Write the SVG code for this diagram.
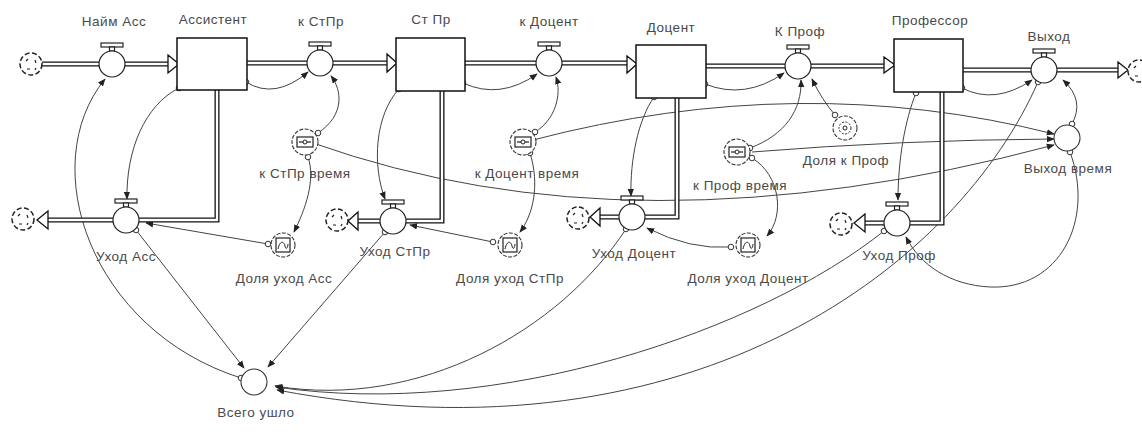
<svg xmlns="http://www.w3.org/2000/svg" width="1142" height="441" viewBox="0 0 1142 441">
<style>
text{font-family:"Liberation Sans",Arial,sans-serif;font-size:13.5px;letter-spacing:0.5px;fill:#4a4a4a;text-anchor:middle}
.po{fill:none;stroke:#111;stroke-width:5}
.pi{fill:none;stroke:#fff;stroke-width:2.4}
.pa{fill:#fff;stroke:#111;stroke-width:1.3}
.stock{fill:#fff;stroke:#111;stroke-width:1.5}
.vc{fill:#fff;stroke:#222;stroke-width:1.2}
.aux{fill:#fff;stroke:#333;stroke-width:1.1}
.cl{fill:#fff;stroke:#222;stroke-width:1.5;stroke-dasharray:5 2.5}
.ln{fill:none;stroke:#444;stroke-width:1;marker-end:url(#ah)}
.og{fill:#fff;stroke:#333;stroke-width:1}
</style>
<defs>
<marker id="ah" viewBox="0 0 10 10" refX="9" refY="5" markerWidth="8" markerHeight="8" orient="auto" markerUnits="userSpaceOnUse"><path d="M0,1 L10,5 L0,9 z" fill="#222"/></marker>
<g id="valve"><rect x="-11" y="-21" width="22" height="4" class="vc"/><rect x="-2.5" y="-17" width="5" height="4" class="vc"/><circle r="13" class="vc"/></g>
<g id="cloud"><circle r="11" class="cl"/><path d="M-5,-3 l2,-2 M4,-4 l1,3 M-4,5 l3,0 M5,4 l-1,2" stroke="#222" stroke-width="1.2" fill="none"/></g>
<g id="lkt"><circle r="13" class="aux" stroke-dasharray="4 1.5"/><rect x="-8" y="-5" width="16" height="10" fill="#fff" stroke="#222" stroke-width="1.2"/><path d="M-6,0 H6" stroke="#222" stroke-width="1.2"/><circle r="2" fill="#fff" stroke="#222"/></g>
<g id="lkg"><circle r="12" class="aux" stroke-dasharray="4 1.5"/><rect x="-7" y="-7" width="14" height="14" fill="#fff" stroke="#222" stroke-width="1.2"/><path d="M-5,4 C-3,-5 1,-4 2,1 S5,2 5,-1" fill="none" stroke="#222"/></g>
<g id="cst"><circle r="12" class="aux" stroke-dasharray="4 1.5"/><circle r="6" fill="none" stroke="#222" stroke-dasharray="2 1.5"/><circle r="2" fill="none" stroke="#222"/></g>
</defs>

<g id="connectors">
<path class="ln" d="M179,88 C145,105 126,150 127,199"/>
<path class="ln" d="M246,82 Q275,100 308,72"/>
<path class="ln" d="M318,133 C345,115 342,90 331,76"/>
<path class="ln" d="M308,157 C316,180 305,210 294,232"/>
<path class="ln" d="M268,244 L146,223"/>
<path class="ln" d="M136,230 L244,368"/>
<path class="ln" d="M241,378 C90,330 35,165 105,79"/>
<path class="ln" d="M313,143 Q634,257 1054,145"/>
<path class="ln" d="M535,132 C555,120 562,95 556,77"/>
<path class="ln" d="M530,153 C540,185 533,215 520,232"/>
<path class="ln" d="M493,242 L410,225"/>
<path class="ln" d="M399,89 C375,115 372,165 385,199"/>
<path class="ln" d="M463,83 Q500,100 537,74"/>
<path class="ln" d="M385,232 L268,367"/>
<path class="ln" d="M533,140 Q800,70 1054,134"/>
<path class="ln" d="M654,97 C638,120 630,160 631,196"/>
<path class="ln" d="M705,84 Q745,100 784,73"/>
<path class="ln" d="M750,148 C785,135 802,110 801,80"/>
<path class="ln" d="M835,115 Q822,100 812,79"/>
<path class="ln" d="M752,158 C780,175 785,215 767,236"/>
<path class="ln" d="M731,247 Q690,250 647,228"/>
<path class="ln" d="M626,229 C560,330 420,410 275,386"/>
<path class="ln" d="M752,152 Q900,140 1054,139"/>
<path class="ln" d="M916,93 C905,120 898,160 898,200"/>
<path class="ln" d="M962,88 Q995,105 1032,80"/>
<path class="ln" d="M1072,124 Q1085,100 1063,80"/>
<path class="ln" d="M1070,152 C1095,220 1060,290 990,287 C950,285 920,265 906,237"/>
<path class="ln" d="M884,231 C760,330 500,420 276,387"/>
<path class="ln" d="M1038,82 C960,260 700,470 277,390"/>
<g>
<circle class="og" cx="179" cy="88" r="2.8"/><circle class="og" cx="246" cy="82" r="2.8"/>
<circle class="og" cx="318" cy="133" r="2.8"/><circle class="og" cx="313" cy="143" r="2.8"/><circle class="og" cx="308" cy="157" r="2.8"/>
<circle class="og" cx="268" cy="244" r="2.8"/><circle class="og" cx="136" cy="230" r="2.8"/><circle class="og" cx="241" cy="378" r="2.8"/>
<circle class="og" cx="535" cy="132" r="2.8"/><circle class="og" cx="533" cy="140" r="2.8"/><circle class="og" cx="530" cy="153" r="2.8"/>
<circle class="og" cx="493" cy="242" r="2.8"/><circle class="og" cx="399" cy="89" r="2.8"/><circle class="og" cx="463" cy="83" r="2.8"/>
<circle class="og" cx="385" cy="232" r="2.8"/><circle class="og" cx="654" cy="97" r="2.8"/><circle class="og" cx="705" cy="84" r="2.8"/>
<circle class="og" cx="750" cy="148" r="2.8"/><circle class="og" cx="752" cy="158" r="2.8"/><circle class="og" cx="835" cy="115" r="2.8"/>
<circle class="og" cx="731" cy="247" r="2.8"/><circle class="og" cx="626" cy="229" r="2.8"/><circle class="og" cx="916" cy="93" r="2.8"/>
<circle class="og" cx="962" cy="88" r="2.8"/><circle class="og" cx="1072" cy="124" r="2.8"/><circle class="og" cx="1070" cy="152" r="2.8"/>
<circle class="og" cx="884" cy="231" r="2.8"/><circle class="og" cx="1038" cy="82" r="2.8"/>
</g>
</g>

<g id="pipes">
<path class="po" d="M42,64 H168 M247,63 H387 M465,63 H627 M706,66 H884 M963,70 H1118"/>
<path class="pi" d="M42,64 H168 M247,63 H387 M465,63 H627 M706,66 H884 M963,70 H1118"/>
<path class="po" d="M217,90 V220 H139 M113,220 H48 M442,91 V221 H406 M380,221 H358 M677,98 V217 H645 M619,217 H600 M942,92 V223 H910 M884,223 H865"/>
<path class="pi" d="M217,90 V220 H139 M113,220 H48 M442,91 V221 H406 M380,221 H358 M677,98 V217 H645 M619,217 H600 M942,92 V223 H910 M884,223 H865"/>
<path class="pa" d="M168,55 L179,64 L168,73 Z M387,54 L397,63 L387,72 Z M627,56 L637,64 L627,73 Z M884,57 L895,65 L884,73 Z M1118,62 L1128,70 L1118,78 Z"/>
<path class="pa" d="M48,211 L37,220 L48,229 Z M358,212 L348,221 L358,230 Z M600,208 L590,217 L600,226 Z M865,214 L854,223 L865,232 Z"/>
</g>

<g id="cloud_src"><use href="#cloud" x="31" y="64"/></g>
<g id="cloud_sink"><use href="#cloud" x="1139" y="71"/></g>
<g id="cloud_a"><use href="#cloud" x="23" y="219"/></g>
<g id="cloud_s"><use href="#cloud" x="337" y="220"/></g>
<g id="cloud_d"><use href="#cloud" x="578" y="218"/></g>
<g id="cloud_p"><use href="#cloud" x="841" y="224"/></g>

<g id="assistant"><rect class="stock" x="177" y="38" width="70" height="52"/><text x="213" y="24">Ассистент</text></g>
<g id="stpr"><rect class="stock" x="396" y="38" width="69" height="53"/><text x="431" y="24">Ст Пр</text></g>
<g id="docent"><rect class="stock" x="636" y="45" width="70" height="53"/><text x="671" y="32">Доцент</text></g>
<g id="prof"><rect class="stock" x="894" y="39" width="69" height="53"/><text x="930" y="25">Профессор</text></g>

<g id="naim_acc"><use href="#valve" x="112" y="64"/><text x="114" y="26">Найм Асс</text></g>
<g id="k_stpr"><use href="#valve" x="320" y="63"/><text x="321" y="26">к СтПр</text></g>
<g id="k_docent"><use href="#valve" x="549" y="63"/><text x="549" y="26">к Доцент</text></g>
<g id="k_prof"><use href="#valve" x="798" y="66"/><text x="800" y="36">К Проф</text></g>
<g id="vyhod"><use href="#valve" x="1044" y="70"/><text x="1049" y="41">Выход</text></g>

<g id="uhod_acc"><use href="#valve" x="126" y="220"/><text x="126" y="261">Уход Асс</text></g>
<g id="uhod_stpr"><use href="#valve" x="393" y="221"/><text x="395" y="256">Уход СтПр</text></g>
<g id="uhod_docent"><use href="#valve" x="632" y="217"/><text x="634" y="258">Уход Доцент</text></g>
<g id="uhod_prof"><use href="#valve" x="897" y="223"/><text x="899" y="260">Уход Проф</text></g>

<g id="k_stpr_vremya"><use href="#lkt" x="305" y="142"/><text x="305" y="178">к СтПр время</text></g>
<g id="k_docent_vremya"><use href="#lkt" x="523" y="142"/><text x="527" y="178">к Доцент время</text></g>
<g id="k_prof_vremya"><use href="#lkt" x="737" y="152"/><text x="740" y="190">к Проф время</text></g>
<g id="dolya_k_prof"><use href="#cst" x="845" y="128"/><text x="846" y="165">Доля к Проф</text></g>
<g id="vyhod_vremya"><circle class="aux" cx="1067" cy="138" r="13"/><text x="1068" y="173">Выход время</text></g>

<g id="dolya_uhod_acc"><use href="#lkg" x="283" y="245"/><text x="284" y="283">Доля уход Асс</text></g>
<g id="dolya_uhod_stpr"><use href="#lkg" x="510" y="245"/><text x="510" y="283">Доля уход СтПр</text></g>
<g id="dolya_uhod_docent"><use href="#lkg" x="748" y="245"/><text x="748" y="283">Доля уход Доцент</text></g>

<g id="vsego_ushlo"><circle class="aux" cx="254" cy="382" r="13"/><text x="256" y="417">Всего ушло</text></g>
</svg>
